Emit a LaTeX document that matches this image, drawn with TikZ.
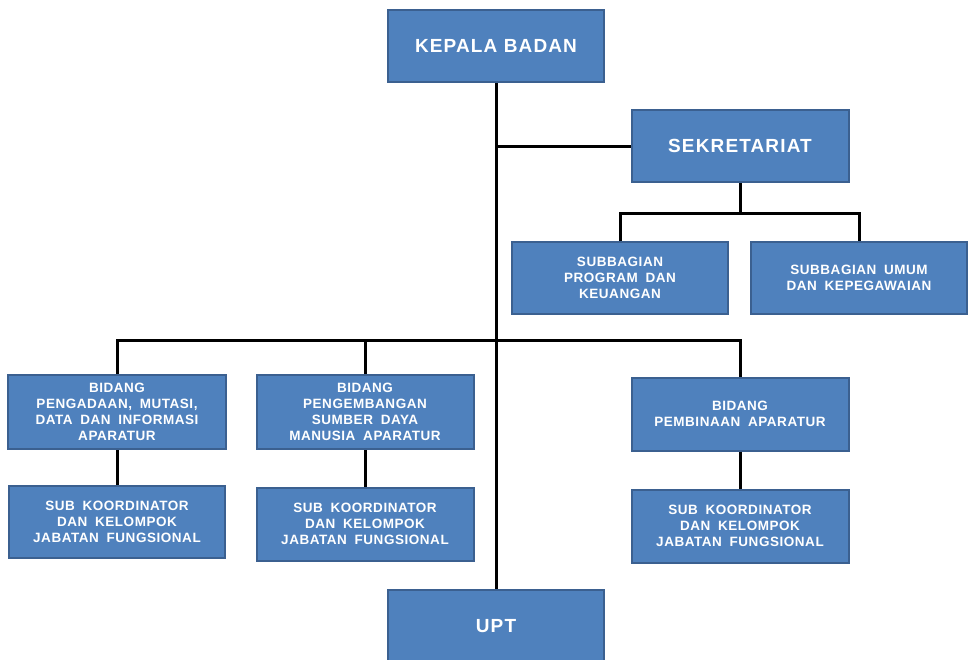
\documentclass[tikz,border=0pt]{standalone}
\usepackage{fontspec}
\setmainfont{Liberation Sans}
\newfontfamily\boxfont[LetterSpace=4,WordSpace=1.8]{Liberation Sans}
\newfontfamily\bigfont[LetterSpace=6]{Liberation Sans}
\usepackage{tikz}
\usetikzlibrary{calc,positioning}
\definecolor{boxfill}{HTML}{4F81BD}
\definecolor{boxedge}{HTML}{3B6090}

\begin{document}
\begin{tikzpicture}[x=1pt,y=-1pt,
    box/.style={draw=boxedge,line width=2pt,fill=boxfill,text=white,
      minimum width=216pt,minimum height=72pt,align=center,
      font=\boxfont\fontsize{13.5}{16}\selectfont\bfseries},
    bigbox/.style={box,font=\bigfont\fontsize{19}{22}\selectfont\bfseries},
    link/.style={line width=3pt,black}]
  \useasboundingbox (0,0) rectangle (969,659);
  \node[bigbox] (kepala) at (496,46) {KEPALA BADAN};
  \node[bigbox,minimum width=217pt] (sekre) at (740,146) {SEKRETARIAT};
  \node[box] (sbprog) at (620,278) {SUBBAGIAN\\PROGRAM DAN\\KEUANGAN};
  \node[box] (sbumum) at (859,278) {SUBBAGIAN UMUM\\DAN KEPEGAWAIAN};
  \node[box,minimum width=218pt,minimum height=74pt] (bid1) at (117,412) {BIDANG\\PENGADAAN, MUTASI,\\DATA DAN INFORMASI\\APARATUR};
  \node[box,minimum width=217pt,minimum height=74pt] (bid2) at (365,412) {BIDANG\\PENGEMBANGAN\\SUMBER DAYA\\MANUSIA APARATUR};
  \node[box,minimum width=217pt,minimum height=73pt] (bid3) at (740,414) {BIDANG\\PEMBINAAN APARATUR};
  \node[box] (sub1) at (117,522) {SUB KOORDINATOR\\DAN KELOMPOK\\JABATAN FUNGSIONAL};
  \node[box,minimum width=217pt,minimum height=73pt] (sub2) at (365,524) {SUB KOORDINATOR\\DAN KELOMPOK\\JABATAN FUNGSIONAL};
  \node[box,minimum width=217pt,minimum height=73pt] (sub3) at (740,526) {SUB KOORDINATOR\\DAN KELOMPOK\\JABATAN FUNGSIONAL};
  \node[bigbox] (upt) at (496,626) {UPT};
  % junctions
  \coordinate (j1) at (kepala.south |- sekre.west);
  \coordinate (j2) at (740,213);
  \coordinate (j3) at (496,340);
  % lines
  \draw[link] (kepala.south) -- (upt.north);
  \draw[link] (j1) -- (sekre.west);
  \draw[link] (sekre.south) -- (j2);
  \draw[link] (sbprog.north) |- (j2) -| (sbumum.north);
  \draw[link] (bid1.north) |- (j3) -| (bid3.north);
  \draw[link] (bid2.north) -- (bid2.north |- j3);
  \draw[link] (bid1.south) -- (sub1.north);
  \draw[link] (bid2.south) -- (sub2.north);
  \draw[link] (bid3.south) -- (sub3.north);
\end{tikzpicture}
\end{document}
